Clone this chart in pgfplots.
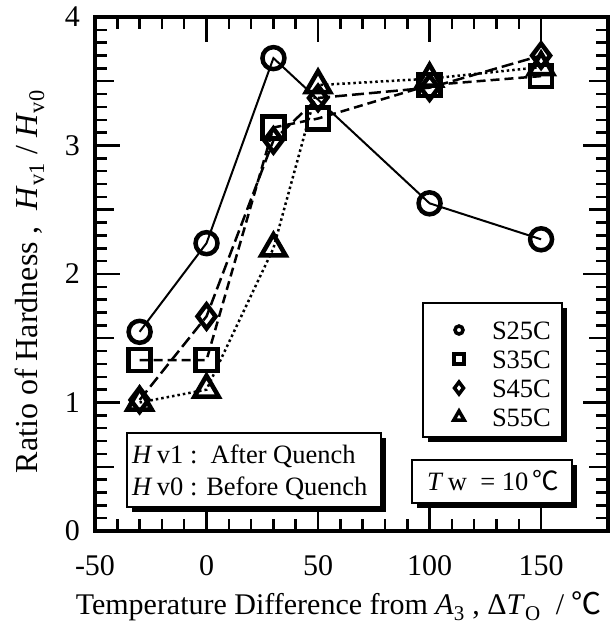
\documentclass[border=0pt]{standalone}
\usepackage{fontspec}
\setmainfont{Liberation Serif}
\newfontfamily\cjk{Noto Sans CJK JP}
\usepackage{pgfplots}
\pgfplotsset{compat=1.18}
\newcommand{\degC}{{\cjk ℃}}

\begin{document}
\begin{tikzpicture}
\useasboundingbox (-95pt,-95pt) rectangle (518pt,531pt);
\begin{axis}[
  at={(0,0)}, anchor=south west,
  scale only axis, width=513pt, height=514pt,
  xmin=-50, xmax=180, ymin=0, ymax=4,
  xtick={-50,0,50,100,150}, xticklabels={-50,0,50,100,150},
  ytick={0,1,2,3,4}, yticklabels={0,1,2,3,4},
  minor x tick num=4, minor y tick num=9,
  extra y ticks={0.5,1.5,2.5,3.5}, extra y tick labels={},
  extra y tick style={major tick length=19pt},
  tick align=inside,
  major tick length=25pt, minor tick length=12pt,
  every tick/.style={black, line width=2.5pt},
  axis line style={line width=3.5pt},
  ticklabel style={font=\fontsize{30}{36}\selectfont, inner sep=0pt},
  xticklabel style={yshift=-24pt},
  yticklabel style={xshift=-15pt},
  label style={font=\fontsize{30}{36}\selectfont},
  xlabel={Temperature Difference from \textit{A}\textsubscript{3} , Δ\textit{T}\textsubscript{O}\ \ / \degC},
  xlabel style={at={(axis description cs:0.475,-0.163)}, anchor=base},
  ylabel={\fontsize{32}{38}\selectfont Ratio of Hardness ,\ \ \textit{H}\textsubscript{v1} / \textit{H}\textsubscript{v0}},
  ylabel style={at={(axis description cs:-0.127,0.485)}, anchor=center},
  legend image code/.code={%
    \pgfinterruptboundingbox
      \draw[#1] plot coordinates {(0pt,0pt)};
    \endpgfinterruptboundingbox},
  legend style={draw=none, fill=none, inner sep=0pt, outer sep=0pt,
    at={(axis cs:113.2,1.634)}, anchor=north west,
    font=\fontsize{26.5}{30}\selectfont,
    nodes={inner sep=0pt, text height=18pt, text depth=0pt},
    column sep=33pt, row sep=11pt},
  legend cell align=left,
]
% S55C
\addplot[black, line width=2.5pt, dash pattern=on 2.5pt off 3pt, mark=triangle, mark size=14pt,
  mark options={solid, fill=white, line width=4.5pt}, forget plot]
  coordinates {(-30,1.00) (0,1.10) (30,2.20) (50,3.47) (100,3.52) (150,3.61)};
% S35C
\addplot[black, line width=2.5pt, dash pattern=on 9pt off 5pt, mark=square, mark size=11pt,
  mark options={solid, fill=white, line width=4.5pt}, forget plot]
  coordinates {(-30,1.33) (0,1.33) (30,3.14) (50,3.21) (100,3.47) (150,3.54)};
% S45C
\addplot[black, line width=2.5pt, dash pattern=on 12pt off 5pt, mark=diamond, mark size=12pt,
  mark options={solid, fill=white, line width=4.5pt}, forget plot]
  coordinates {(-30,1.02) (0,1.67) (30,3.04) (50,3.37) (100,3.45) (150,3.70)};
% S25C
\addplot[black, line width=2pt, mark=o, mark size=11pt,
  mark options={solid, fill=white, line width=4.5pt}, forget plot]
  coordinates {(-30,1.55) (0,2.24) (30,3.68) (100,2.55) (150,2.27)};

\addlegendimage{only marks, black, mark=o, mark size=4pt, mark options={line width=3.5pt}}
\addlegendentry{S25C}
\addlegendimage{only marks, black, mark=square, mark size=5pt, mark options={line width=3.5pt}}
\addlegendentry{S35C}
\addlegendimage{only marks, black, mark=diamond, mark size=6pt, mark options={line width=3.5pt}}
\addlegendentry{S45C}
\addlegendimage{only marks, black, mark=triangle, mark size=6pt, mark options={line width=3.5pt}}
\addlegendentry{S55C}

% legend frame with shadow
\fill[black] ([shift={(5pt,-5pt)}]axis cs:97.06,0.7315) rectangle ([shift={(5pt,-5pt)}]axis cs:159.4,1.774);
\draw[fill=white, line width=1.5pt] (axis cs:97.06,0.7315) rectangle (axis cs:159.4,1.774);
% Hv box
\fill[black] ([shift={(5pt,-5pt)}]axis cs:-35.65,0.187) rectangle ([shift={(5pt,-5pt)}]axis cs:78.2,0.763);
\draw[fill=white, line width=1.5pt] (axis cs:-35.65,0.187) rectangle (axis cs:78.2,0.763);
\node[anchor=base west, inner sep=0pt, font=\fontsize{26.5}{30}\selectfont] at (axis cs:-33.4,0.529) {\textit{H}\,v1 :\ \ After Quench};
\node[anchor=base west, inner sep=0pt, font=\fontsize{26.5}{30}\selectfont] at (axis cs:-33.4,0.280) {\textit{H}\,v0 : Before Quench};
% Tw box
\fill[black] ([shift={(5pt,-5pt)}]axis cs:92.1,0.218) rectangle ([shift={(5pt,-5pt)}]axis cs:163.9,0.553);
\draw[fill=white, line width=1.5pt] (axis cs:92.1,0.218) rectangle (axis cs:163.9,0.553);
\node[anchor=base west, inner sep=0pt, font=\fontsize{26.5}{30}\selectfont] at (axis cs:98.85,0.319) {\textit{T}\,w\ \ = 10\,\degC};
\end{axis}
\end{tikzpicture}
\end{document}
